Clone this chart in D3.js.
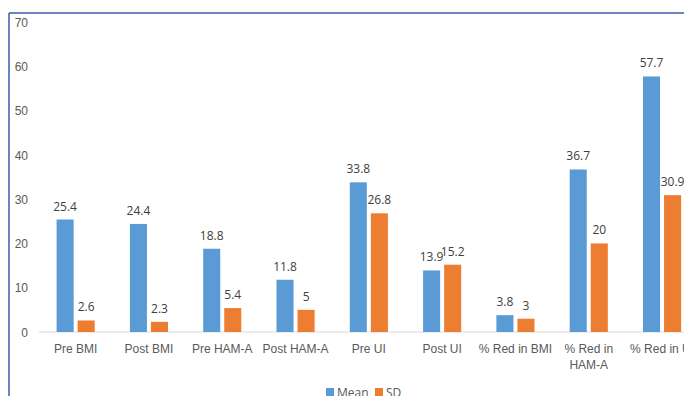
<!DOCTYPE html>
<html>
<head>
<meta charset="utf-8">
<script src="https://cdn.jsdelivr.net/npm/d3@7"></script>
<style>
body { margin: 0; background: #fff; }
svg { display: block; font-family: "Open Sans", sans-serif; }
.axis text { fill: #595959; font-size: 12px; }
.val { fill: #404040; font-size: 12px; }
</style>
</head>
<body>
<div id="graph"></div>
<script>
// data
var categories = ["Pre BMI", "Post BMI", "Pre HAM-A", "Post HAM-A", "Pre UI", "Post UI",
                  "% Red in BMI", "% Red in HAM-A", "% Red in UI"];
var series = ["Mean", "SD"];
var meanValues = [25.4, 24.4, 18.8, 11.8, 33.8, 13.9, 3.8, 36.7, 57.7];
var sdValues = [2.6, 2.3, 5.4, 5, 26.8, 15.2, 3, 20, 30.9];
var yTicks = [0, 10, 20, 30, 40, 50, 60, 70];

var colors = {Mean: "#5b9bd5", SD: "#ed7d31"};

var width = 684, height = 396;
var left = 39, step = 73.3, bottomY = 332, topY = 22;

var svg = d3.select("#graph")
    .append("svg")
        .attr("width", width)
        .attr("height", height);

// Scales
var x = d3.scaleBand()
    .domain(categories)
    .range([left, left + step * categories.length])
    .paddingInner(0.48)
    .paddingOuter(0.24);

var x1 = d3.scaleBand()
    .domain(series)
    .range([0, x.bandwidth()])
    .paddingInner(0.19);

var y = d3.scaleLinear().domain([0, 70]).range([bottomY, topY]);

// y axis (labels only)
svg.append("g")
    .attr("class", "axis yaxis")
    .attr("transform", "translate(28,0)")
    .call(d3.axisLeft(y).tickValues(yTicks).tickSize(0).tickPadding(0))
    .call(function(g) { g.select(".domain").remove(); })
    .selectAll("text").attr("dy", "0.35em");

// baseline
svg.append("line")
    .attr("x1", left).attr("x2", width)
    .attr("y1", y(0)).attr("y2", y(0))
    .style("stroke", "#d9d9d9")
    .style("stroke-width", 1);

// x axis labels, wrap the long ones
var xg = svg.append("g")
    .attr("class", "axis xaxis")
    .attr("transform", "translate(0," + y(0) + ")")
    .call(d3.axisBottom(x).tickSize(0).tickPadding(12));
xg.select(".domain").remove();
xg.selectAll(".tick text").each(function(d) {
    var t = d3.select(this);
    if (this.getComputedTextLength() > 78) {
        var words = d.split(" ");
        var first = words.slice(0, 3).join(" "), rest = words.slice(3).join(" ");
        t.text(null);
        t.append("tspan").attr("x", 0).attr("dy", "0.71em").text(first);
        t.append("tspan").attr("x", 0).attr("dy", "1.35em").text(rest);
        t.attr("dy", null);
    }
});

// bars
var rows = categories.map(function(c, i) {
    return {cat: c, values: [{key: "Mean", v: meanValues[i]}, {key: "SD", v: sdValues[i]}]};
});

var grp = svg.selectAll(".grp")
    .data(rows)
    .enter().append("g")
    .attr("class", "grp")
    .attr("transform", function(d) { return "translate(" + x(d.cat) + ",0)"; });

grp.selectAll("rect")
    .data(function(d) { return d.values; })
    .enter().append("rect")
    .attr("x", function(d) { return x1(d.key); })
    .attr("y", function(d) { return y(d.v); })
    .attr("width", x1.bandwidth())
    .attr("height", function(d) { return y(0) - y(d.v); })
    .style("fill", function(d) { return colors[d.key]; });

grp.selectAll(".val")
    .data(function(d) { return d.values; })
    .enter().append("text")
    .attr("class", "val")
    .attr("text-anchor", "middle")
    .attr("x", function(d) { return x1(d.key) + x1.bandwidth() / 2; })
    .attr("y", function(d) { return y(d.v) - 9; })
    .text(function(d) { return d.v; });

// legend (cropped at the bottom edge like the source)
var legend = svg.append("g").attr("class", "axis legend");
var lx = [326, 375];
series.forEach(function(s, i) {
    legend.append("rect")
        .attr("x", lx[i]).attr("y", 388)
        .attr("width", 8).attr("height", 8)
        .style("fill", colors[s]);
    legend.append("text")
        .attr("x", lx[i] + 11).attr("y", 397)
        .style("font-size", "12px")
        .text(s);
});

// frame (blue border, cropped)
svg.append("line")
    .attr("x1", 9).attr("x2", width).attr("y1", 13).attr("y2", 13)
    .style("stroke", "#3a5ba8").style("stroke-width", 1.5);
svg.append("line")
    .attr("x1", 9).attr("x2", 9).attr("y1", 13).attr("y2", height)
    .style("stroke", "#3a5ba8").style("stroke-width", 1.5);
</script>
</body>
</html>
